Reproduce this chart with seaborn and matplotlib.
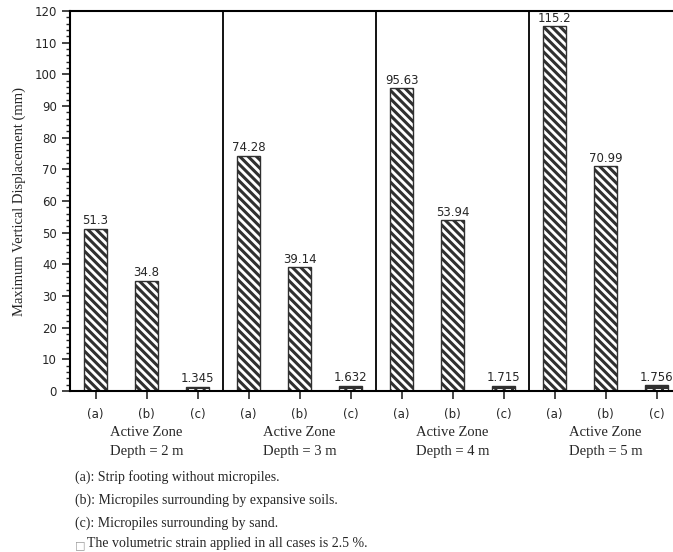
import matplotlib

matplotlib.use("Agg")

import matplotlib.pyplot as plt
import numpy as np
import pandas as pd
import seaborn as sns

# 数据
depths = ["2 m", "3 m", "4 m", "5 m"]
cases = ["(a)", "(b)", "(c)"]
disp_a = [51.3, 74.28, 95.63, 115.2]
disp_b = [34.8, 39.14, 53.94, 70.99]
disp_c = [1.345, 1.632, 1.715, 1.756]
notes = [
    "(a): Strip footing without micropiles.",
    "(b): Micropiles surrounding by expansive soils.",
    "(c): Micropiles surrounding by sand.",
]
strain_note = "The volumetric strain applied in all cases is 2.5 %."

df = pd.DataFrame({
    "depth": depths * 3,
    "case": [c for c in cases for _ in depths],
    "value": disp_a + disp_b + disp_c,
})

sns.set_theme(style="ticks")
plt.rcParams["font.family"] = ["DejaVu Sans"]
plt.rcParams["hatch.linewidth"] = 2.2

fig = plt.figure(figsize=(6.73, 5.52), dpi=100)
W, H = 673, 552
ax = fig.add_axes([70 / W, 1 - 391 / H, 612 / W, 380 / H])

sns.barplot(
    data=df, x="depth", y="value", hue="case", order=depths, hue_order=cases,
    palette=["white"] * 3, width=1.0, gap=0.55, edgecolor="#1a1a1a",
    linewidth=1.0, legend=False, ax=ax,
)

hatches = ["\\\\\\\\", "\\\\\\\\", "++"]
for cont, h in zip(ax.containers, hatches):
    for p in cont:
        p.set_hatch(h)
        p.set_edgecolor("#303030")
    ax.bar_label(cont, fmt="%g", padding=1, fontsize=8.5)

# 组分隔线
for xv in [0.5, 1.5, 2.5]:
    ax.axvline(xv, color="black", lw=1.3)

ax.set_xlim(-0.5, 3.5)
ax.set_ylim(0, 120)
ax.set_yticks(np.arange(0, 121, 10))
ax.set_yticks(np.arange(0, 121, 2), minor=True)
ax.tick_params(axis="y", which="major", length=6, width=1.2, labelsize=8.5, direction="out")
ax.tick_params(axis="y", which="minor", length=3, width=1.0, direction="out")

xt = [i + off for i in range(len(depths)) for off in (-1 / 3, 0, 1 / 3)]
ax.set_xticks(xt)
ax.set_xticklabels(cases * len(depths))
ax.tick_params(axis="x", length=6, width=1.2, labelsize=8.5, pad=6)

for s in ["left", "top", "bottom", "right"]:
    ax.spines[s].set_visible(True)
    ax.spines[s].set_linewidth(1.5)
    ax.spines[s].set_color("black")

ax.set_xlabel("")
ax.set_ylabel("Maximum Vertical Displacement (mm)", family="Liberation Serif",
              fontsize=10.5, labelpad=6)

trans = ax.get_xaxis_transform()
for i, d in enumerate(depths):
    ax.text(i, -41 / 380, "Active Zone", transform=trans, ha="center", va="center",
            family="Liberation Serif", fontsize=10.5)
    ax.text(i, -61 / 380, f"Depth = {d}", transform=trans, ha="center", va="center",
            family="Liberation Serif", fontsize=10.5)

for k, line in enumerate(notes):
    fig.text(75 / W, 1 - (477 + k * 23) / H, line, ha="left", va="center",
             family="Liberation Serif", fontsize=10)
fig.text(75 / W, 1 - 545 / H, "\u25a1", ha="left", va="center",
         family="DejaVu Sans", fontsize=8, color="#999999")
fig.text(87 / W, 1 - 544 / H, strain_note, ha="left", va="center",
         family="Liberation Serif", fontsize=10)

fig.savefig("out.png", dpi=100)
